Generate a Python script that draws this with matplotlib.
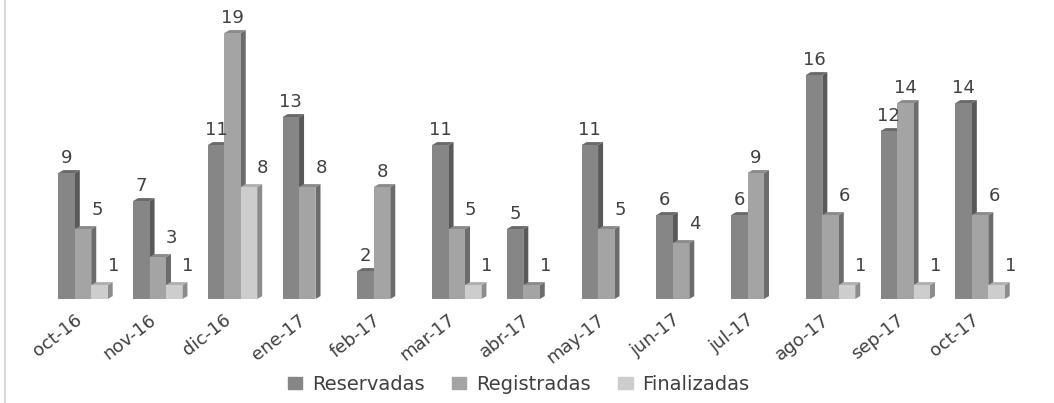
import numpy as np
import matplotlib.pyplot as plt
import matplotlib.transforms as mtransforms
from matplotlib.patches import Polygon, Patch
from matplotlib.lines import Line2D

months = ['oct-16', 'nov-16', 'dic-16', 'ene-17', 'feb-17', 'mar-17', 'abr-17',
          'may-17', 'jun-17', 'jul-17', 'ago-17', 'sep-17', 'oct-17']
reservadas = [9, 7, 11, 13, 2, 11, 5, 11, 6, 6, 16, 12, 14]
registradas = [5, 3, 19, 8, 8, 5, 1, 5, 4, 9, 6, 14, 6]
finalizadas = [1, 1, 8, 0, 0, 1, 0, 0, 0, 0, 1, 1, 1]
series = ['Reservadas', 'Registradas', 'Finalizadas']

front = ['#868686', '#a4a4a4', '#cdcdcd']
side = ['#595959', '#6c6c6c', '#8c8c8c']
top = ['#6a6a6a', '#8a8a8a', '#b0b0b0']
txt = '#404040'

fig = plt.figure(figsize=(10.54, 4.03), dpi=100)
ax = fig.add_axes([0.0433, 0.258, 0.922, 0.7295])

x = np.arange(len(months))
w = 0.22
dx = 0.067
dy = 0.21
data = [reservadas, registradas, finalizadas]
for i, vals in enumerate(data):
    xs = x + (i - 1) * w
    for j, (xc, v) in enumerate(zip(xs, vals)):
        if v == 0:
            continue
        l, r = xc - w / 2, xc + w / 2
        ax.add_patch(Polygon([(r, 0), (r + dx, dy), (r + dx, v + dy), (r, v)],
                             closed=True, fc=side[i], ec='none', zorder=2))
        ax.add_patch(Polygon([(l, v), (r, v), (r + dx, v + dy), (l + dx, v + dy)],
                             closed=True, fc=top[i], ec='none', zorder=2))
        ax.bar(xc, v, width=w, color=front[i], edgecolor='none', zorder=2)
        # shorter than left neighbour -> label pushed right
        shift = i > 0 and data[i - 1][j] > v
        off = (10, 5) if shift else (0, 2)
        ax.annotate(str(v), (xc, v + dy), xytext=off,
                    textcoords='offset points', ha='center', va='bottom',
                    fontsize=13, color=txt, zorder=3)

ax.set_xlim(-0.5, len(months) - 0.5)
ax.set_ylim(0, 21)
ax.set_xticks(x)
ax.set_xticklabels(months, rotation=38, ha='right', rotation_mode='anchor',
                   fontsize=13, color=txt)
ax.tick_params(axis='x', length=0, pad=7)
shift_lbl = mtransforms.ScaledTranslation(-9 / 100, -2 / 100, fig.dpi_scale_trans)
for lbl in ax.get_xticklabels():
    lbl.set_transform(lbl.get_transform() + shift_lbl)
ax.set_yticks([])
for s in ax.spines.values():
    s.set_visible(False)

handles = [Patch(color=c) for c in front]
fig.legend(handles, series, loc='center', bbox_to_anchor=(0.492, 0.047), ncol=3,
           frameon=False, fontsize=14, handlelength=0.75, handleheight=0.6,
           columnspacing=1.4, handletextpad=0.5, labelcolor=txt)

fig.add_artist(Line2D([0.005, 0.005], [0, 1], color='#d9d9d9', lw=1.5,
                      transform=fig.transFigure))

fig.savefig('out.png', dpi=100)
